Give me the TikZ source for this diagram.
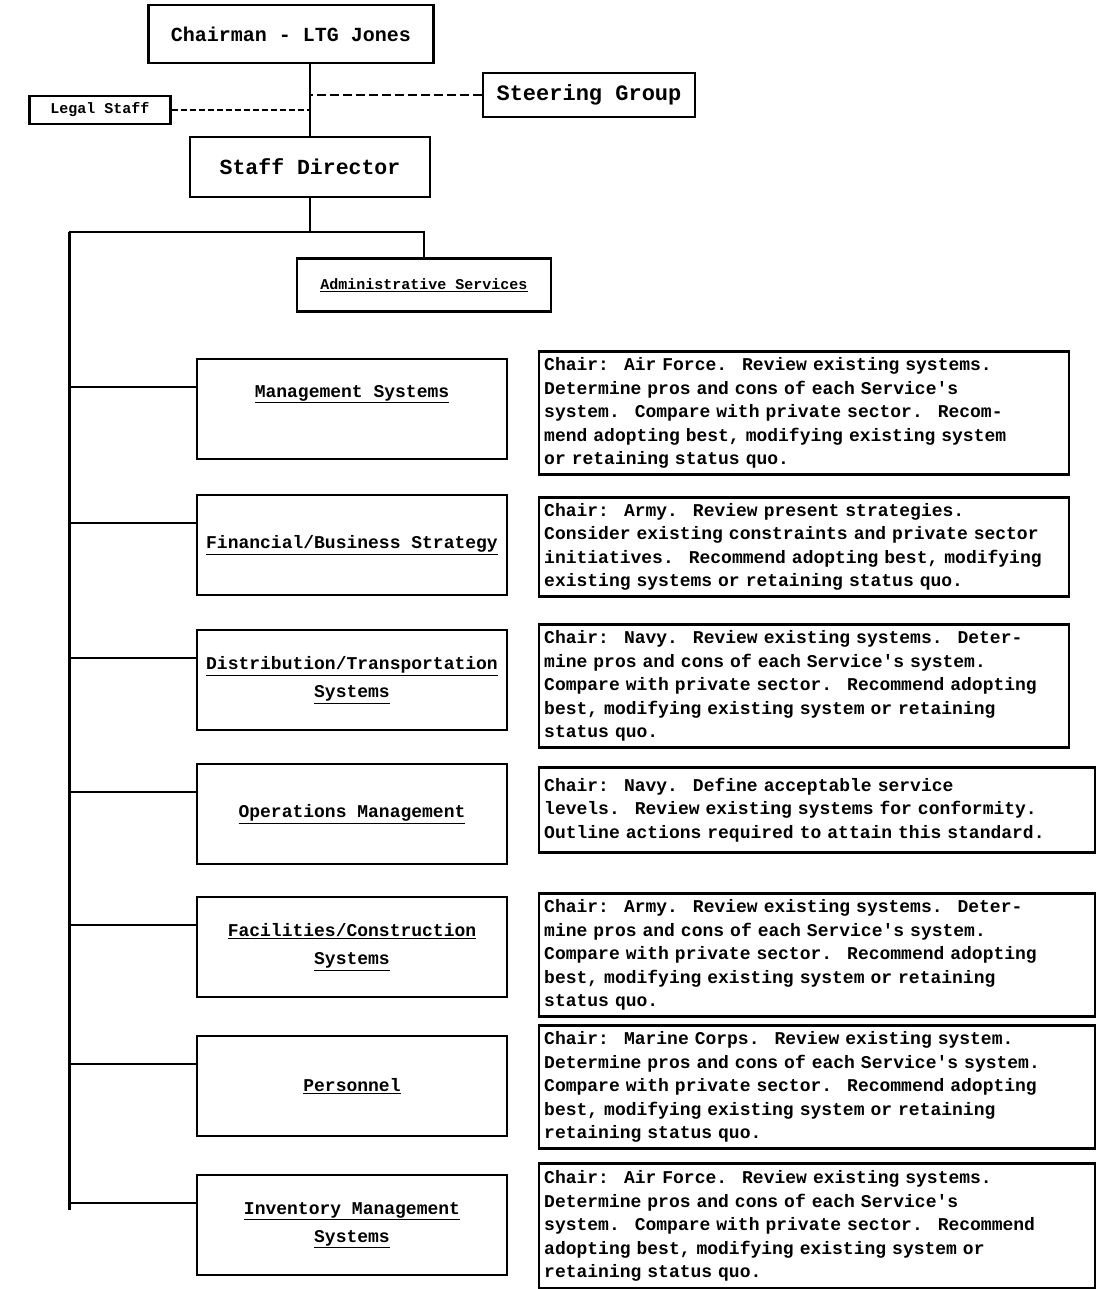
\documentclass[tikz,border=0pt]{standalone}
\usepackage{fontspec}
\setmonofont{Liberation Mono}
\usepackage{tikz}

\begin{document}
\begin{tikzpicture}[x=1pt, y=-1pt,
    box/.style={draw, line width=2.4pt, inner sep=6pt, font=\ttfamily\bfseries},
    unit/.style={box, minimum width=310pt, minimum height=100pt, align=center, font=\ttfamily\bfseries\fontsize{18}{28}\selectfont},
    task/.style={box, anchor=west, align=left, inner xsep=5pt, text width=#1, font=\ttfamily\bfseries\fontsize{18}{23.5}\selectfont},
    link/.style={line width=1.8pt},
    staff/.style={line width=1.5pt, dash pattern=on 9pt off 4pt},
]
\useasboundingbox (0,0) rectangle (1119,1289);

% top of the board
\node[box, minimum width=285pt, minimum height=58pt, font=\ttfamily\bfseries\fontsize{20}{24}\selectfont] (chair) at (291,34) {Chairman - LTG Jones};
\node[box, minimum width=212pt, minimum height=44pt, font=\ttfamily\bfseries\fontsize{22}{26}\selectfont] (steer) at (589,95) {Steering Group};
\node[box, minimum width=141pt, minimum height=28pt, inner sep=2pt, font=\ttfamily\bfseries\fontsize{15}{18}\selectfont] (legal) at (100,110) {Legal Staff};
\node[box, minimum width=240pt, minimum height=60pt, font=\ttfamily\bfseries\fontsize{21.5}{26}\selectfont] (director) at (310,167) {Staff Director};
\node[box, minimum width=254pt, minimum height=53pt, font=\ttfamily\bfseries\fontsize{15}{18}\selectfont] (admin) at (424,285) {\underline{Administrative Services}};

\draw[link] (director.north) -- (director.north |- chair.south);
\draw[staff] (steer.west) -- (steer.west -| director.north);
\draw[staff, dash pattern=on 6pt off 3pt] (legal.east) -- (legal.east -| director.north);

% bus down the left side
\coordinate (bustop) at (69,232);
\coordinate (busend) at (69,1210);
\draw[link] (director.south) -- (director.south |- bustop);
\draw[link] (bustop) -- (bustop -| admin.north) -- (admin.north);
\draw[line width=3pt] (bustop) -- (busend);

% working groups
\node[unit] (mgmt) at (352,409) {\underline{Management Systems}\\[8pt]};
\node[unit] (finance) at (352,545) {\underline{Financial/Business Strategy}};
\node[unit] (distrib) at (352,680) {\underline{Distribution/Transportation}\\\underline{Systems}};
\node[unit] (ops) at (352,814) {\underline{Operations Management}};
\node[unit] (facil) at (352,947) {\underline{Facilities/Construction}\\\underline{Systems}};
\node[unit] (pers) at (352,1086) {\underline{Personnel}};
\node[unit] (invent) at (352,1225) {\underline{Inventory Management}\\\underline{Systems}};

% stubs off the bus
\coordinate (s1) at ([yshift=22pt]mgmt.west);
\coordinate (s2) at ([yshift=22pt]finance.west);
\coordinate (s3) at ([yshift=22pt]distrib.west);
\coordinate (s4) at ([yshift=22pt]ops.west);
\coordinate (s5) at ([yshift=22pt]facil.west);
\coordinate (s6) at ([yshift=22pt]pers.west);
\coordinate (s7) at ([yshift=22pt]invent.west);
\draw[link] (s1 -| bustop) -- (s1);
\draw[link] (s2 -| bustop) -- (s2);
\draw[link] (s3 -| bustop) -- (s3);
\draw[link] (s4 -| bustop) -- (s4);
\draw[link] (s5 -| bustop) -- (s5);
\draw[link] (s6 -| bustop) -- (s6);
\draw[link] (s7 -| bustop) -- (s7);

% charters
\node[task=520pt, minimum height=116pt] (t1) at (538,413) {Chair:~ Air Force.~ Review existing systems.\\Determine pros and cons of each Service's\\system.~ Compare with private sector.~ Recom-\\mend adopting best, modifying existing system\\or retaining status quo.};
\node[task=520pt, minimum height=99pt] (t2) at (538,547) {Chair:~ Army.~ Review present strategies.\\Consider existing constraints and private sector\\initiatives.~ Recommend adopting best, modifying\\existing systems or retaining status quo.};
\node[task=520pt, minimum height=115pt] (t3) at (538,686) {Chair:~ Navy.~ Review existing systems.~ Deter-\\mine pros and cons of each Service's system.\\Compare with private sector.~ Recommend adopting\\best, modifying existing system or retaining\\status quo.};
\node[task=546pt, minimum height=85pt] (t4) at (538,810) {Chair:~ Navy.~ Define acceptable service\\levels.~ Review existing systems for conformity.\\Outline actions required to attain this standard.};
\node[task=546pt, minimum height=117pt] (t5) at (538,955) {Chair:~ Army.~ Review existing systems.~ Deter-\\mine pros and cons of each Service's system.\\Compare with private sector.~ Recommend adopting\\best, modifying existing system or retaining\\status quo.};
\node[task=546pt, minimum height=113pt] (t6) at (538,1087) {Chair:~ Marine Corps.~ Review existing system.\\Determine pros and cons of each Service's system.\\Compare with private sector.~ Recommend adopting\\best, modifying existing system or retaining\\retaining status quo.};
\node[task=546pt, minimum height=125pt] (t7) at (538,1226) {Chair:~ Air Force.~ Review existing systems.\\Determine pros and cons of each Service's\\system.~ Compare with private sector.~ Recommend\\adopting best, modifying existing system or\\retaining status quo.};

\end{tikzpicture}
\end{document}
